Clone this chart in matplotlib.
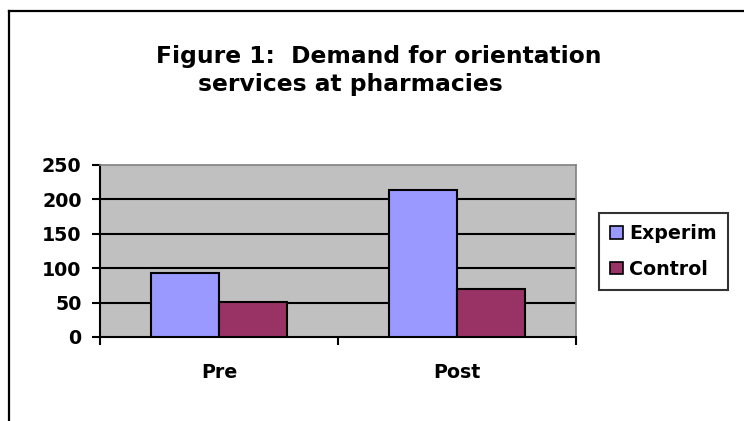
import numpy as np
import matplotlib
matplotlib.use('Agg')
import matplotlib.pyplot as plt
from matplotlib.lines import Line2D
from matplotlib.patches import Patch

# data
categories = ['Pre', 'Post']
series_names = ['Experim', 'Control']
experim = [93, 213]
control = [51, 70]
yticks = [0, 50, 100, 150, 200, 250]

plt.rcParams['font.family'] = ['DejaVu Sans']
plt.rcParams['font.weight'] = 'bold'

W, H = 744, 421
fig = plt.figure(figsize=(W / 100, H / 100), dpi=100)

# outer chart border (only top and left visible in the crop)
fig.add_artist(Line2D([8.5 / W, 8.5 / W], [0, 1 - 11 / H], color='black', lw=1.6,
                      transform=fig.transFigure, solid_capstyle='projecting'))
fig.add_artist(Line2D([8.5 / W, 1], [1 - 11 / H, 1 - 11 / H], color='black', lw=1.6,
                      transform=fig.transFigure, solid_capstyle='projecting'))

fig.text(379 / W, 1 - 63 / H, 'Figure 1:  Demand for orientation',
         ha='center', va='baseline', fontsize=16.8, fontweight='bold')
fig.text(350 / W, 1 - 91 / H, 'services at pharmacies',
         ha='center', va='baseline', fontsize=16.8, fontweight='bold')

ax = fig.add_axes([100 / W, 1 - 337 / H, 476 / W, 172 / H])
ax.set_facecolor('#C0C0C0')
ax.set_xlim(0, 2)
ax.set_ylim(0, 250)

x = np.arange(len(categories)) + 0.5
bw = 1 / 1.75 / 2
ax.bar(x - bw / 2, experim, bw, color='#9999FF', edgecolor='black', linewidth=1.5, zorder=3)
ax.bar(x + bw / 2, control, bw, color='#993366', edgecolor='black', linewidth=1.5, zorder=3)

for v in yticks[1:-1]:
    ax.axhline(v, color='black', lw=1.5, zorder=1)

for side in ['top', 'right']:
    ax.spines[side].set_color('#808080')
    ax.spines[side].set_linewidth(1.2)
ax.spines['left'].set_linewidth(1.5)
ax.spines['bottom'].set_linewidth(1.5)

ax.set_yticks(yticks)
ax.set_yticklabels([str(v) for v in yticks])
ax.tick_params(axis='y', direction='out', length=5.8, width=1.5, labelsize=13.7, pad=7.5)

# category boundary ticks, labels centred under groups
ax.set_xticks([0, 1, 2])
ax.set_xticklabels(['', '', ''])
ax.tick_params(axis='x', direction='out', length=6, width=1.5)
ax.set_xticks(x, minor=True)
ax.set_xticklabels(categories, minor=True)
ax.tick_params(axis='x', which='minor', length=0, labelsize=13.7, pad=19)

handles = [Patch(facecolor='#9999FF', edgecolor='black', linewidth=1.2),
           Patch(facecolor='#993366', edgecolor='black', linewidth=1.2)]
leg = fig.legend(handles, series_names, loc='center', bbox_to_anchor=(663.5 / W, 1 - 251.5 / H),
                 fontsize=13.7, frameon=True, fancybox=False, edgecolor='black',
                 handlelength=0.65, handleheight=0.65, handletextpad=0.35, borderpad=0.6,
                 labelspacing=0.85, borderaxespad=0)
leg.get_frame().set_linewidth(1.5)
for t in leg.get_texts():
    t.set_fontweight('bold')

fig.savefig('out.png', dpi=100, facecolor='white')
